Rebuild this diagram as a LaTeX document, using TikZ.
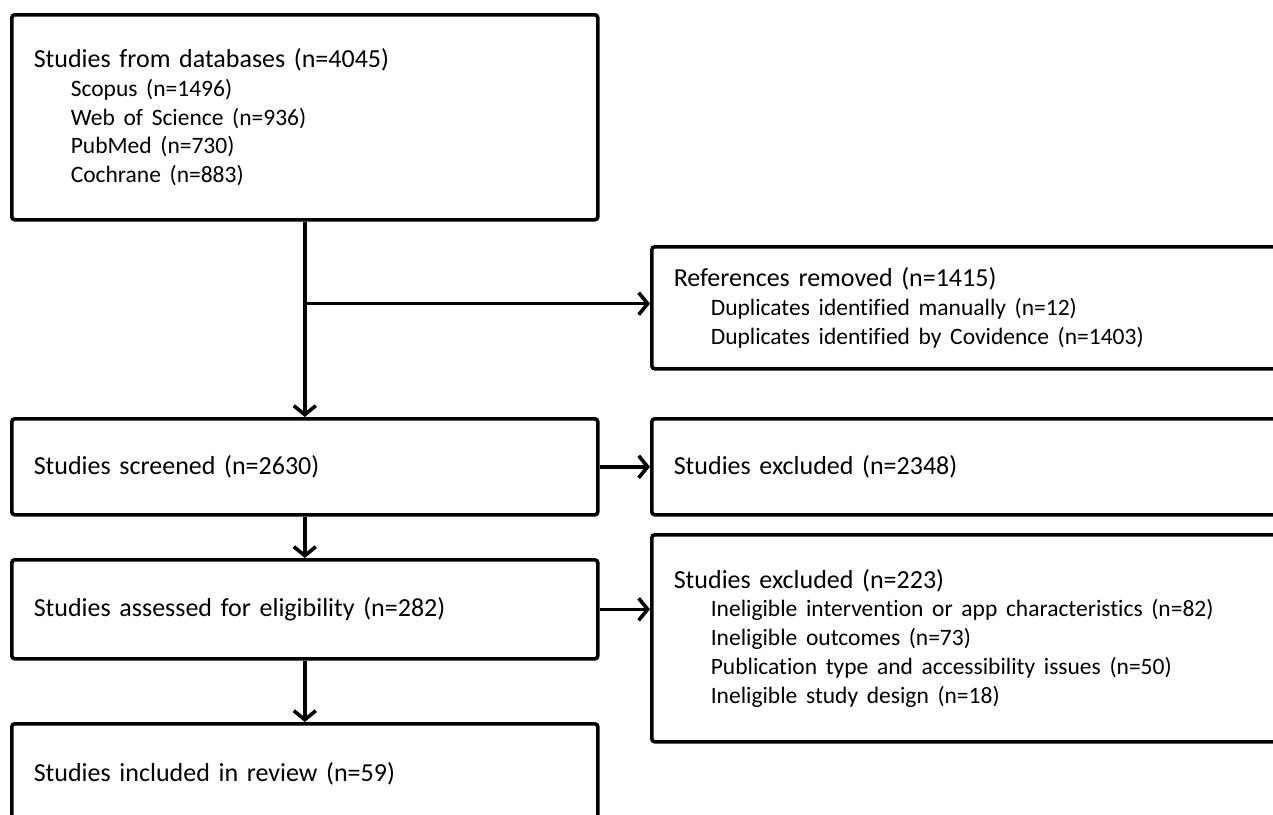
\documentclass[tikz,border=0pt]{standalone}
\usepackage{fontspec}
\setmainfont{Carlito}[Ligatures=NoCommon]
\usetikzlibrary{positioning,arrows.meta,calc}
\tikzset{
  prbox/.style={draw=black, line width=3.6pt, rounded corners=3pt, anchor=north west,
                align=left, inner xsep=22pt, inner ysep=0pt, font=\prfont},
  prleft/.style={prbox, text width=542pt},
  prright/.style={prbox, text width=601pt},
  prarr/.style={line width=3.6pt, -{Straight Barb[length=9pt,width=22pt]}},
  prline/.style={line width=3.6pt},
}
\newcommand{\prfont}{\fontsize{26}{28.8}\selectfont}
\newcommand{\prsub}{\fontsize{23.5}{28.8}\selectfont\hspace*{37pt}}

\begin{document}
\begin{tikzpicture}[x=1pt,y=-1pt]
  \useasboundingbox (0,0) rectangle (1273,814);
  \clip (0,0) rectangle (1273,814);
  % left column
  \node[prleft, minimum height=205pt] (db) at (10,13)
    {Studies from databases (n=4045)\\
     \prsub Scopus (n=1496)\\
     \prsub Web of Science (n=936)\\
     \prsub PubMed (n=730)\\
     \prsub Cochrane (n=883)};
  \node[prleft, minimum height=96pt] (screened) at (10,417) {Studies screened (n=2630)};
  \node[prleft, minimum height=99pt] (assessed) at (10,558) {Studies assessed for eligibility (n=282)};
  \node[prleft, minimum height=100pt] (included) at (10,722) {Studies included in review (n=59)};
  % right column
  \node[prright, minimum height=122pt] (refs) at (650,245)
    {References removed (n=1415)\\
     \prsub Duplicates identified manually (n=12)\\
     \prsub Duplicates identified by Covidence (n=1403)};
  \node[prright, minimum height=96pt] (excl1) at (650,417) {Studies excluded (n=2348)};
  \node[prright, minimum height=207pt] (excl2) at (650,533)
    {Studies excluded (n=223)\\
     \prsub Ineligible intervention or app characteristics (n=82)\\
     \prsub Ineligible outcomes (n=73)\\
     \prsub Publication type and accessibility issues (n=50)\\
     \prsub Ineligible study design (n=18)};
  % connectors
  \coordinate (split) at ($(db.south)!0.42!(screened.north)$);
  \draw[prarr] (db) -- (screened);
  \draw[prarr] (split) -- (split -| refs.west);
  \draw[prarr] (screened) -- (excl1);
  \draw[prarr] (screened) -- (assessed);
  \draw[prarr] (assessed.east) -- (assessed.east -| excl2.west);
  \draw[prarr] (assessed) -- (included);
\end{tikzpicture}
\end{document}
